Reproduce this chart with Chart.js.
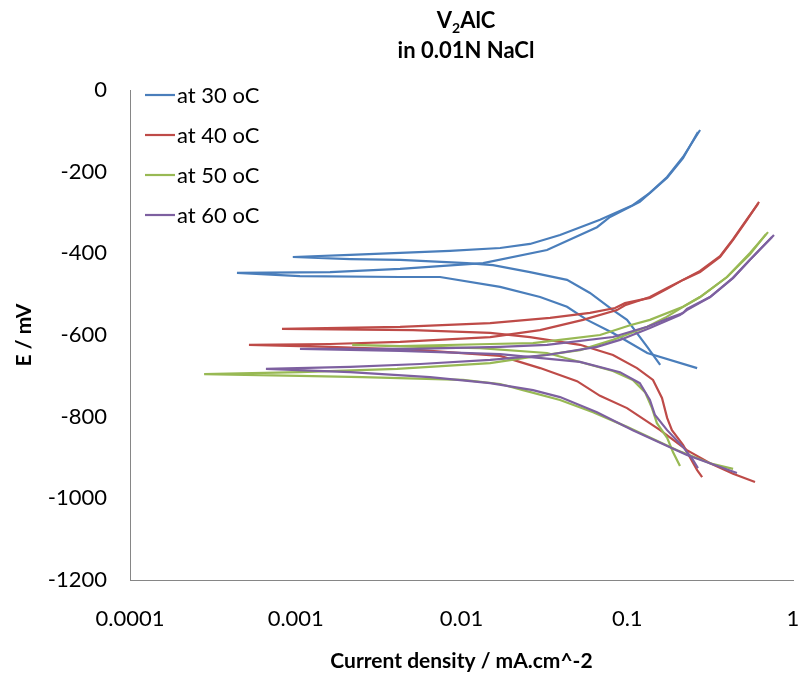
<!DOCTYPE html>
<html lang="en">
<head>
<meta charset="UTF-8">
<title>V2AlC in 0.01N NaCl</title>
<script src="https://cdn.jsdelivr.net/npm/chart.js"></script>
<style>
  html, body { margin: 0; padding: 0; background: #fff; }
</style>
</head>
<body>
<canvas id="chart" width="800" height="679"></canvas>
<script>
// legend names, one per temperature
const seriesNames = ['at 30 oC', 'at 40 oC', 'at 50 oC', 'at 60 oC'];

// current density (mA/cm2) and potential (mV), two sweeps per temperature
const i30a = [0.158, 0.132, 0.0997, 0.082, 0.0596, 0.0433, 0.0259, 0.0155, 0.0108, 0.00426, 0.00213, 0.00096, 0.00213, 0.00426, 0.00852, 0.0171, 0.0259, 0.0393, 0.0685, 0.108, 0.137, 0.174, 0.217, 0.275];
const E30a = [-673, -629, -563, -539, -497, -465, -446, -429, -424, -416, -414, -409, -404, -399, -394, -387, -377, -355, -318, -282, -252, -213, -164, -98];
const i30b = [0.264, 0.132, 0.082, 0.0572, 0.0433, 0.0298, 0.0171, 0.00742, 0.00426, 0.00106, 0.000442, 0.00161, 0.00426, 0.0135, 0.0328, 0.0657, 0.0787, 0.119, 0.174, 0.217, 0.267];
const E30b = [-681, -644, -595, -563, -531, -507, -482, -458, -458, -456, -448, -446, -438, -424, -392, -336, -311, -274, -215, -167, -103];

const i40a = [0.283, 0.264, 0.217, 0.186, 0.174, 0.162, 0.143, 0.1145, 0.082, 0.0519, 0.0259, 0.0149, 0.0051, 0.000826, 0.00426, 0.0149, 0.0342, 0.0596, 0.0844, 0.0969, 0.137, 0.174, 0.217, 0.275, 0.363, 0.435, 0.528, 0.624];
const E40a = [-948, -931, -869, -833, -803, -754, -710, -681, -649, -624, -605, -595, -588, -585, -580, -571, -558, -546, -534, -522, -509, -487, -465, -446, -409, -367, -318, -274];
const i40b = [0.590, 0.435, 0.316, 0.229, 0.158, 0.0997, 0.0685, 0.0498, 0.0298, 0.0171, 0.00562, 0.00161, 0.000522, 0.00161, 0.00426, 0.0149, 0.0298, 0.0541, 0.0867, 0.0969, 0.137, 0.174, 0.217, 0.275, 0.363, 0.435, 0.528, 0.615];
const E40b = [-960, -940, -914, -882, -833, -779, -749, -713, -681, -651, -637, -629, -624, -622, -617, -605, -588, -563, -539, -527, -507, -485, -465, -443, -407, -365, -316, -279];

const i50a = [0.208, 0.189, 0.174, 0.151, 0.141, 0.128, 0.108, 0.082, 0.0519, 0.0328, 0.0129, 0.00562, 0.00219, 0.00426, 0.0149, 0.027, 0.0393, 0.0685, 0.104, 0.137, 0.217, 0.275, 0.400, 0.550, 0.707];
const E50a = [-921, -887, -852, -816, -779, -740, -710, -688, -666, -644, -632, -629, -624, -627, -622, -620, -612, -600, -576, -563, -531, -507, -458, -399, -348];
const i50b = [0.435, 0.316, 0.200, 0.0997, 0.0622, 0.0393, 0.0235, 0.0171, 0.0102, 0.00254, 0.00106, 0.00028, 0.00106, 0.00408, 0.0149, 0.0259, 0.0519, 0.082, 0.132, 0.169, 0.217, 0.275, 0.400, 0.550, 0.687];
const E50b = [-928, -914, -882, -825, -789, -759, -735, -720, -710, -703, -700, -696, -691, -683, -669, -654, -637, -612, -580, -558, -531, -507, -458, -402, -353];

const i60a = [0.267, 0.249, 0.217, 0.174, 0.147, 0.137, 0.119, 0.0904, 0.0519, 0.0171, 0.00426, 0.00106, 0.0051, 0.0171, 0.0328, 0.082, 0.132, 0.181, 0.217, 0.229, 0.316, 0.435, 0.550, 0.768];
const E60a = [-926, -906, -874, -833, -796, -759, -718, -691, -666, -647, -639, -634, -634, -629, -624, -605, -580, -558, -546, -536, -507, -460, -416, -355];
const i60b = [0.459, 0.229, 0.108, 0.0657, 0.0393, 0.027, 0.0149, 0.00646, 0.00213, 0.000661, 0.00213, 0.00562, 0.0149, 0.0328, 0.0657, 0.0904, 0.137, 0.208, 0.229, 0.316, 0.435, 0.550, 0.747];
const E60b = [-938, -894, -833, -789, -752, -735, -718, -703, -691, -683, -678, -671, -661, -649, -629, -612, -583, -551, -539, -507, -460, -416, -360];

// axis ticks
const xTicks = [0.0001, 0.001, 0.01, 0.1, 1];
const xTickLabels = ['0.0001', '0.001', '0.01', '0.1', '1'];
const yTicks = [0, -200, -400, -600, -800, -1000, -1200];

const colors = ['#4a7ebb', '#be4b48', '#98b954', '#7d60a0'];
const FONT = 'Lato, "Open Sans", sans-serif';

const runs = [
  [i30a, E30a, 0], [i30b, E30b, 0],
  [i40a, E40a, 1], [i40b, E40b, 1],
  [i50a, E50a, 2], [i50b, E50b, 2],
  [i60a, E60a, 3], [i60b, E60b, 3]
];

const datasets = runs.map(([cur, pot, k]) => ({
  label: seriesNames[k],
  data: cur.map((v, j) => ({ x: v, y: pot[j] })),
  showLine: true,
  borderColor: colors[k],
  backgroundColor: colors[k],
  borderWidth: 2.2,
  pointRadius: 0,
  tension: 0,
  order: 4 - k   // later temperatures drawn on top, like Excel
}));

// title and in-plot legend
const decorPlugin = {
  id: 'decor',
  afterDraw(chart) {
    const ctx = chart.ctx;
    ctx.save();
    ctx.fillStyle = '#000';
    ctx.textBaseline = 'alphabetic';

    // V2AlC with subscript 2
    const cx = 466;
    ctx.font = 'bold 22px ' + FONT;
    const wV = ctx.measureText('V').width;
    const wRest = ctx.measureText('AlC').width;
    ctx.font = 'bold 14px ' + FONT;
    const wSub = ctx.measureText('2').width;
    let x = cx - (wV + wSub + wRest) / 2;
    ctx.textAlign = 'left';
    ctx.font = 'bold 22px ' + FONT;
    ctx.fillText('V', x, 28);
    x += wV;
    ctx.font = 'bold 14px ' + FONT;
    ctx.fillText('2', x, 33);
    x += wSub;
    ctx.font = 'bold 22px ' + FONT;
    ctx.fillText('AlC', x, 28);
    ctx.textAlign = 'center';
    ctx.fillText('in 0.01N NaCl', cx, 58);

    // legend
    ctx.font = '22px ' + FONT;
    ctx.textAlign = 'left';
    ctx.textBaseline = 'middle';
    seriesNames.forEach((name, k) => {
      const y = 95 + k * 40;
      ctx.strokeStyle = colors[k];
      ctx.lineWidth = 2.2;
      ctx.beginPath();
      ctx.moveTo(145, y);
      ctx.lineTo(175, y);
      ctx.stroke();
      ctx.fillText(name, 177, y + 1);
    });
    ctx.restore();
  }
};

new Chart(document.getElementById('chart'), {
  type: 'scatter',
  data: { datasets },
  plugins: [decorPlugin],
  options: {
    responsive: false,
    animation: false,
    layout: { padding: { top: 90, right: 7, left: 0, bottom: 0 } },
    plugins: {
      legend: { display: false },
      tooltip: { enabled: false },
      title: { display: false }
    },
    scales: {
      x: {
        type: 'logarithmic',
        min: 0.0001,
        max: 1,
        afterBuildTicks: s => { s.ticks = xTicks.map(v => ({ value: v, major: true })); },
        afterFit: s => { s.height = 99; s.paddingLeft = 0; s.paddingRight = 0; },
        grid: { display: false, drawTicks: false },
        border: { color: '#868686', width: 1 },
        ticks: {
          color: '#000',
          font: { family: FONT, size: 22 },
          padding: 26,
          maxRotation: 0,
          autoSkip: false,
          callback: (v, idx) => xTickLabels[idx]
        },
        title: {
          display: true,
          text: 'Current density / mA.cm^-2',
          color: '#000',
          font: { family: FONT, size: 21, weight: 'bold' },
          padding: { top: 0, bottom: 5 }
        }
      },
      y: {
        min: -1200,
        max: 0,
        afterBuildTicks: s => { s.ticks = yTicks.map(v => ({ value: v })); },
        afterFit: s => { s.width = 130; },
        grid: { display: false, drawTicks: false },
        border: { color: '#868686', width: 1 },
        ticks: {
          color: '#000',
          font: { family: FONT, size: 22 },
          padding: 23,
          callback: v => String(v)
        },
        title: {
          display: true,
          text: 'E / mV',
          color: '#000',
          font: { family: FONT, size: 21, weight: 'bold' },
          padding: { top: 12, bottom: 0 }
        }
      }
    }
  }
});
</script>
</body>
</html>
